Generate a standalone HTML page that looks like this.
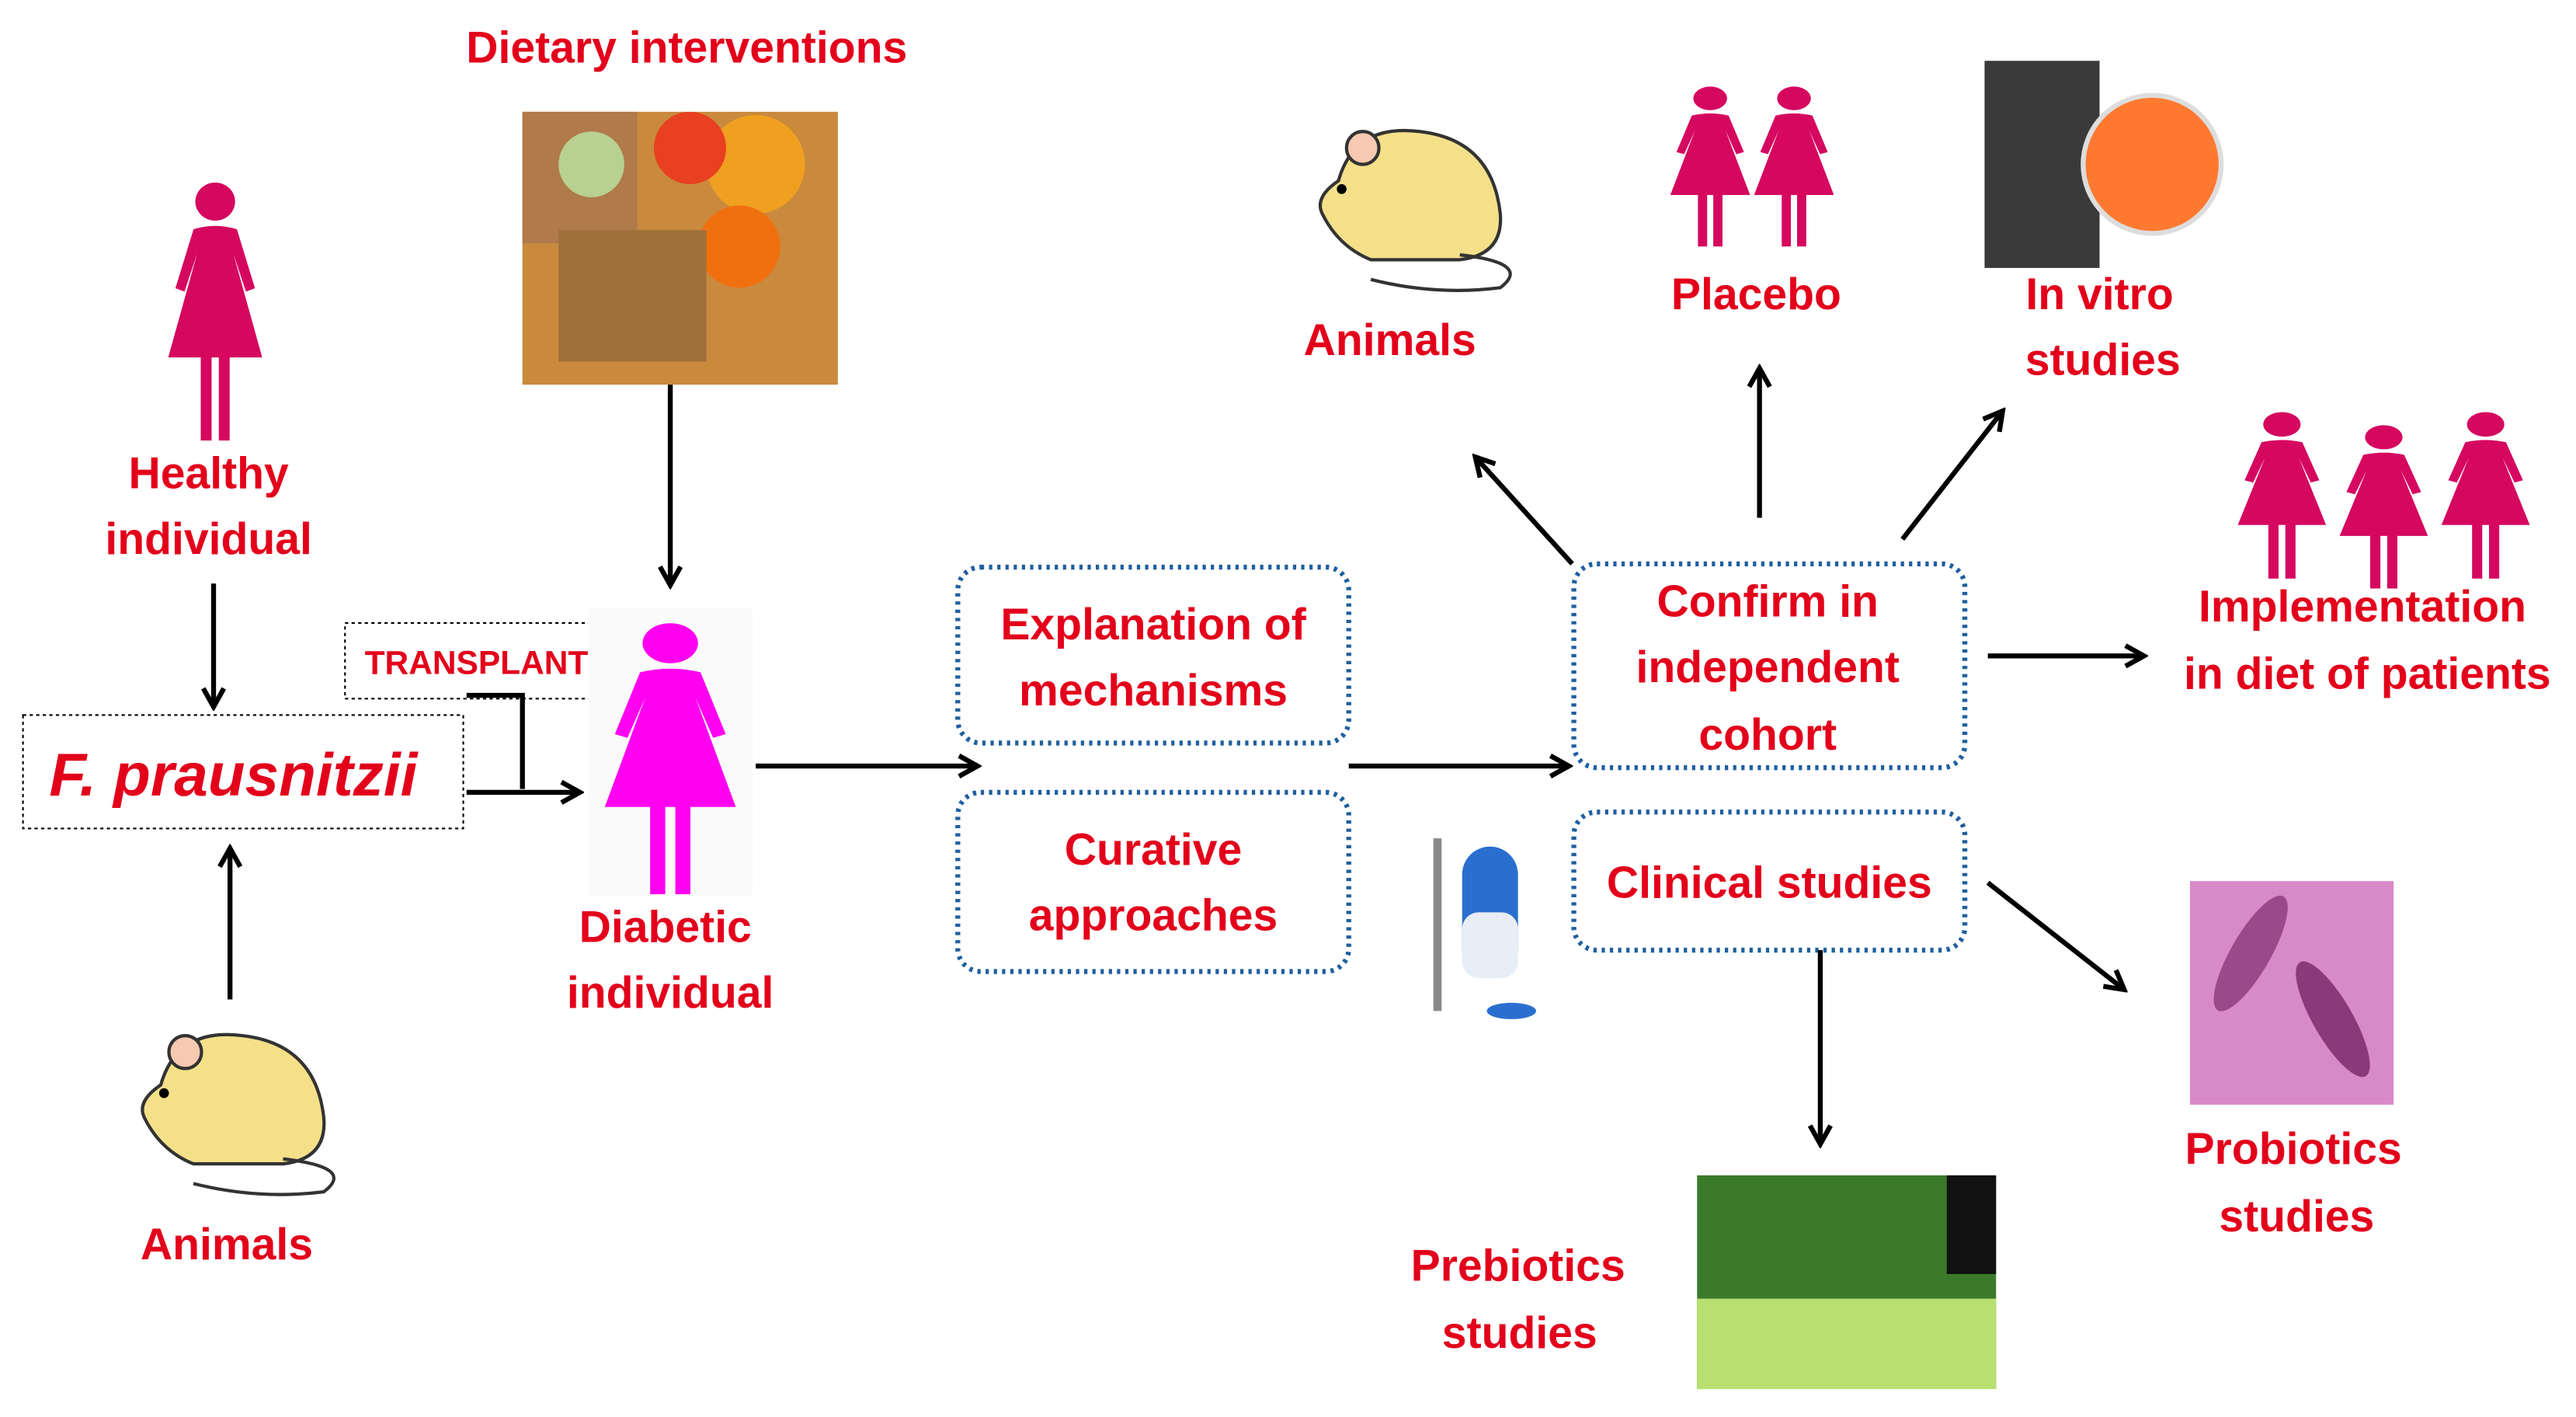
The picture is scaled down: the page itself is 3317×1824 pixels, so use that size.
<!DOCTYPE html>
<html><head><meta charset="utf-8">
<style>
html,body{margin:0;padding:0;background:#fff;}
svg{display:block;}
text{font-family:"Liberation Sans",sans-serif;font-weight:bold;fill:#e3001b;text-anchor:middle;}
</style></head><body>
<svg width="3317" height="1824" viewBox="0 0 1568 862" preserveAspectRatio="none" xmlns="http://www.w3.org/2000/svg">
<defs>
<marker id="ah" viewBox="0 0 12 12" refX="10" refY="6" markerWidth="5" markerHeight="5" orient="auto" markerUnits="strokeWidth">
<polyline points="1,1 10,6 1,11" fill="none" stroke="#000" stroke-width="2.4"/>
</marker>
<symbol id="woman" viewBox="0 0 60 150" preserveAspectRatio="none">
<circle cx="30" cy="12" r="11"/>
<path d="M18 28 Q30 24 42 28 L52 62 L47 64 L40 42 L56 102 L38 102 L38 150 L32 150 L32 102 L28 102 L28 150 L22 150 L22 102 L4 102 L20 42 L13 64 L8 62 Z"/>
</symbol>
<symbol id="mouse" viewBox="0 0 135 110" preserveAspectRatio="none">
<path d="M20 40 Q30 5 70 10 Q115 15 120 60 Q122 85 95 88 L40 88 Q20 80 10 60 Q5 50 20 40 Z" fill="#f5e08a" stroke="#333" stroke-width="2"/>
<circle cx="35" cy="20" r="10" fill="#f6c9b0" stroke="#333" stroke-width="2"/>
<circle cx="22" cy="45" r="3" fill="#000"/>
<path d="M95 85 Q140 90 120 105 Q80 110 40 100" fill="none" stroke="#333" stroke-width="2"/>
</symbol>
</defs>

<text x="418" y="38" font-size="27">Dietary interventions</text>
<rect x="318" y="68" width="192" height="166" fill="#c98a3e"/>
<rect x="318" y="68" width="70" height="80" fill="#b07a4a"/>
<circle cx="460" cy="100" r="30" fill="#f0a020"/>
<circle cx="420" cy="90" r="22" fill="#e84020"/>
<circle cx="450" cy="150" r="25" fill="#f07010"/>
<rect x="340" y="140" width="90" height="80" fill="#a0703a"/>
<circle cx="360" cy="100" r="20" fill="#b8d090"/>

<use href="#woman" x="98" y="110" width="66" height="158" fill="#d5075f"/>
<text x="127" y="297" font-size="27">Healthy</text>
<text x="127" y="337" font-size="27">individual</text>
<line x1="130" y1="355" x2="130" y2="430" stroke="#000" stroke-width="3" marker-end="url(#ah)"/>

<rect x="14" y="435" width="268" height="69" fill="none" stroke="#000" stroke-width="1" stroke-dasharray="2,2"/>
<text x="142" y="484" font-size="37" font-style="italic">F. prausnitzii</text>
<line x1="140" y1="608" x2="140" y2="516" stroke="#000" stroke-width="3" marker-end="url(#ah)"/>
<use href="#mouse" x="78" y="620" width="134" height="110"/>
<text x="138" y="766" font-size="27">Animals</text>

<rect x="210" y="379" width="164" height="46" fill="none" stroke="#000" stroke-width="1" stroke-dasharray="2,2"/>
<text x="290" y="410" font-size="20" font-weight="normal" textLength="136" lengthAdjust="spacingAndGlyphs">TRANSPLANT</text>
<polyline points="284,423 318,423 318,480" fill="none" stroke="#000" stroke-width="3"/>
<line x1="284" y1="482" x2="353" y2="482" stroke="#000" stroke-width="3" marker-end="url(#ah)"/>

<rect x="358" y="370" width="100" height="175" fill="#fafafa"/>
<use href="#woman" x="362" y="378" width="92" height="166" fill="#ff00f0"/>
<line x1="408" y1="234" x2="408" y2="356" stroke="#000" stroke-width="3" marker-end="url(#ah)"/>
<text x="405" y="573" font-size="27">Diabetic</text>
<text x="408" y="613" font-size="27">individual</text>
<line x1="460" y1="466" x2="595" y2="466" stroke="#000" stroke-width="3" marker-end="url(#ah)"/>

<g fill="none" stroke="#1f5fa0" stroke-width="3" stroke-dasharray="2,3">
<rect x="583" y="345" width="238" height="107" rx="14"/>
<rect x="583" y="482" width="238" height="109" rx="14"/>
<rect x="958" y="343" width="238" height="124" rx="14"/>
<rect x="958" y="494" width="238" height="84" rx="14"/>
</g>
<text x="702" y="389" font-size="27">Explanation of</text>
<text x="702" y="429" font-size="27">mechanisms</text>
<text x="702" y="526" font-size="27">Curative</text>
<text x="702" y="566" font-size="27">approaches</text>
<line x1="821" y1="466" x2="955" y2="466" stroke="#000" stroke-width="3" marker-end="url(#ah)"/>

<g>
<rect x="890" y="515" width="34" height="80" rx="17" fill="#2a6fd0"/>
<rect x="890" y="555" width="34" height="40" rx="10" fill="#e8eef5"/>
<line x1="875" y1="510" x2="875" y2="615" stroke="#888" stroke-width="5"/>
<ellipse cx="920" cy="615" rx="15" ry="5" fill="#2a6fd0"/>
</g>

<text x="1076" y="375" font-size="27">Confirm in</text>
<text x="1076" y="415" font-size="27">independent</text>
<text x="1076" y="456" font-size="27">cohort</text>
<text x="1077" y="546" font-size="27">Clinical studies</text>

<g stroke="#000" stroke-width="3" marker-end="url(#ah)">
<line x1="957" y1="343" x2="898" y2="278"/>
<line x1="1071" y1="315" x2="1071" y2="224"/>
<line x1="1158" y1="328" x2="1219" y2="250"/>
<line x1="1210" y1="399" x2="1305" y2="399"/>
<line x1="1210" y1="537" x2="1293" y2="602"/>
<line x1="1108" y1="578" x2="1108" y2="696"/>
</g>

<use href="#mouse" x="795" y="70" width="133" height="110"/>
<text x="846" y="216" font-size="27">Animals</text>
<use href="#woman" x="1013" y="52" width="56" height="98" fill="#d5075f"/>
<use href="#woman" x="1064" y="52" width="56" height="98" fill="#d5075f"/>
<text x="1069" y="188" font-size="27">Placebo</text>
<rect x="1208" y="37" width="70" height="126" fill="#3a3a3a"/>
<circle cx="1310" cy="100" r="42" fill="#ff7a30" stroke="#ddd" stroke-width="3"/>
<text x="1278" y="188" font-size="27">In vitro</text>
<text x="1280" y="228" font-size="27">studies</text>

<use href="#woman" x="1358" y="250" width="62" height="102" fill="#d5075f"/>
<use href="#woman" x="1420" y="258" width="62" height="100" fill="#d5075f"/>
<use href="#woman" x="1482" y="250" width="62" height="102" fill="#d5075f"/>
<text x="1438" y="378" font-size="27">Implementation</text>
<text x="1441" y="419" font-size="27">in diet of patients</text>

<rect x="1333" y="536" width="124" height="136" fill="#d88ac8"/>
<ellipse cx="1370" cy="580" rx="12" ry="40" fill="#9a4a8a" transform="rotate(30 1370 580)"/>
<ellipse cx="1420" cy="620" rx="12" ry="40" fill="#8a3a7a" transform="rotate(-30 1420 620)"/>
<text x="1396" y="708" font-size="27">Probiotics</text>
<text x="1398" y="749" font-size="27">studies</text>

<rect x="1033" y="715" width="182" height="130" fill="#3a7a2a"/>
<rect x="1033" y="790" width="182" height="55" fill="#b8e070"/>
<rect x="1185" y="715" width="30" height="60" fill="#111"/>
<text x="924" y="779" font-size="27">Prebiotics</text>
<text x="925" y="820" font-size="27">studies</text>
</svg>
</body></html>
